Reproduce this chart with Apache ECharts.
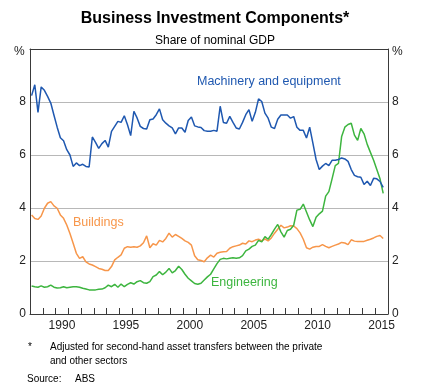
<!DOCTYPE html>
<html><head><meta charset="utf-8">
<script src="https://cdn.jsdelivr.net/npm/echarts@6/dist/echarts.min.js"></script>
<style>html,body{margin:0;padding:0;background:#fff}#c{width:430px;height:390px}</style>
</head><body><div id="c"></div>
<script>
// Quarterly observations, first one is 1988 Q1 (plotted at mid-quarter)
const firstYear = 1988;
const machinery = [
8.24,8.65,7.61,8.57,8.44,8.21,7.96,7.5,7.05,6.65,
6.54,6.2,6.0,5.57,5.7,5.6,5.65,5.57,5.55,6.68,
6.48,6.25,6.43,6.55,6.3,6.89,7.08,7.27,7.23,7.48,
7.14,6.73,7.65,7.4,7.08,7.0,6.98,7.33,7.36,7.52,
7.74,7.33,7.2,7.1,7.02,6.8,7.02,7.02,6.86,7.3,
7.43,7.1,7.06,7.04,6.92,6.9,6.9,6.93,6.9,7.84,
7.23,7.2,7.46,7.23,7.02,6.98,7.23,7.52,7.71,7.27,
7.61,8.12,8.02,7.58,7.39,7.05,7.0,7.35,7.51,7.51,
7.51,7.39,7.45,7.05,6.93,6.93,6.64,7.05,6.45,5.83,
5.45,5.58,5.68,5.6,5.8,5.8,5.83,5.89,5.85,5.76,
5.45,5.23,5.18,5.16,4.89,5.01,4.85,5.12,5.1,5.0,
4.78];
const buildings = [
3.74,3.6,3.57,3.7,3.99,4.18,4.24,4.08,3.99,3.74,
3.61,3.36,3.04,2.67,2.29,2.1,2.16,1.97,1.89,1.85,
1.79,1.72,1.69,1.64,1.64,1.79,2.04,2.14,2.23,2.48,
2.54,2.52,2.54,2.52,2.57,2.69,2.95,2.5,2.65,2.6,
2.78,2.72,2.85,3.05,2.9,3.0,2.93,2.85,2.76,2.7,
2.6,2.2,2.05,2.02,1.97,2.12,2.22,2.15,2.29,2.33,
2.35,2.36,2.48,2.54,2.57,2.6,2.67,2.64,2.76,2.73,
2.79,2.82,2.76,2.83,2.76,2.87,3.05,3.2,3.35,3.25,
3.28,3.33,3.32,3.22,3.06,2.82,2.5,2.45,2.52,2.55,
2.55,2.62,2.55,2.5,2.55,2.6,2.64,2.7,2.68,2.62,
2.8,2.75,2.74,2.74,2.74,2.78,2.82,2.87,2.93,2.96,
2.85];
const engineering = [
1.06,1.03,1.01,1.06,1.01,1.03,1.09,1.01,0.98,0.99,
1.03,0.99,1.01,1.03,1.03,1.01,0.97,0.94,0.91,0.91,
0.91,0.93,0.94,0.99,1.09,1.03,1.12,1.01,1.13,1.03,
1.12,1.18,1.13,1.22,1.26,1.18,1.16,1.22,1.41,1.47,
1.6,1.48,1.58,1.72,1.55,1.64,1.8,1.68,1.5,1.35,
1.25,1.15,1.12,1.16,1.28,1.4,1.5,1.7,1.9,2.06,
2.1,2.08,2.1,2.12,2.1,2.12,2.2,2.38,2.45,2.55,
2.6,2.78,2.72,2.92,2.82,3.0,3.2,3.38,3.1,2.9,
3.15,3.2,3.35,3.92,3.95,4.15,3.85,3.55,3.3,3.65,
3.78,3.88,4.45,4.62,5.1,5.6,5.68,6.7,7.05,7.15,
7.2,6.75,6.55,7.0,6.8,6.4,6.1,5.8,5.45,5.1,
4.55];
const xTickYears = [1988,1989,1990,1991,1992,1993,1994,1995,1996,1997,1998,1999,2000,2001,2002,2003,2004,2005,2006,2007,2008,2009,2010,2011,2012,2013,2014,2015,2016];
const xLabelYears = [1990,1995,2000,2005,2010,2015];
const yTickValues = [0,2,4,6,8,10];
const yUnit = '%';

function toPairs(vals){ return vals.map((v,i)=>[firstYear + 0.125 + 0.25*i, v]); }

const chart = echarts.init(document.getElementById('c'), null, {renderer:'canvas'});
const FONT = 'Liberation Sans, Arial, sans-serif';
const frame = '#3a3a3a';
const yAx = (pos) => ({
  type:'value', position:pos, min:yTickValues[0], max:yTickValues[yTickValues.length-1], interval:2,
  axisLine:{show:true, onZero:false, lineStyle:{color:frame, width:1}},
  axisTick:{show:false},
  axisLabel:{show:true, margin:4, fontSize:12, color:'#222', fontFamily:FONT,
    formatter:(v)=> v===10 ? '' : String(v)},
  splitLine:{show:pos==='left', lineStyle:{color:'#b8b8b8', width:1}}
});
chart.setOption({
  animation:false,
  backgroundColor:'#fff',
  grid:{left:30, right:42, top:49, bottom:76, containLabel:false},
  title:[
    {text:'Business Investment Components*', left:'center', top:6,
     textStyle:{fontSize:16, fontWeight:'bold', color:'#000', fontFamily:FONT}},
    {text:'Share of nominal GDP', left:'center', top:30,
     textStyle:{fontSize:12, fontWeight:'normal', color:'#000', fontFamily:FONT}}
  ],
  xAxis:[
    {type:'value', position:'bottom', min:1988, max:2016,
     axisLine:{show:true, onZero:false, lineStyle:{color:frame, width:1}},
     axisTick:{show:true, inside:true, length:6, customValues:xTickYears, lineStyle:{color:frame}},
     axisLabel:{show:true, customValues:xLabelYears.map(y=>y+0.5), formatter:(v)=>String(Math.floor(v)),
       fontSize:12, color:'#222', margin:6, fontFamily:FONT},
     splitLine:{show:false}},
    {type:'value', position:'top', min:1988, max:2016,
     axisLine:{show:true, onZero:false, lineStyle:{color:frame, width:1}},
     axisTick:{show:false}, axisLabel:{show:false}, splitLine:{show:false}}
  ],
  yAxis:[yAx('left'), yAx('right')],
  series:[
    {name:'Buildings', type:'line', data:toPairs(buildings), showSymbol:false,
     lineStyle:{color:'#f7964a', width:1.5}, itemStyle:{color:'#f7964a'}},
    {name:'Engineering', type:'line', data:toPairs(engineering), showSymbol:false,
     lineStyle:{color:'#3db53f', width:1.5}, itemStyle:{color:'#3db53f'}},
    {name:'Machinery and equipment', type:'line', data:toPairs(machinery), showSymbol:false,
     lineStyle:{color:'#1f58b0', width:1.5}, itemStyle:{color:'#1f58b0'}}
  ],
  graphic:[
    {type:'text', left:14, top:46, style:{text:yUnit, fontSize:12, fill:'#222', fontFamily:FONT}},
    {type:'text', left:392, top:46, style:{text:yUnit, fontSize:12, fill:'#222', fontFamily:FONT}},
    {type:'text', left:197, top:75, style:{text:'Machinery and equipment', fontSize:12.5, fill:'#1f58b0', fontFamily:FONT}},
    {type:'text', left:73, top:216, style:{text:'Buildings', fontSize:12.5, fill:'#f7964a', fontFamily:FONT}},
    {type:'text', left:211, top:276, style:{text:'Engineering', fontSize:12.5, fill:'#3db53f', fontFamily:FONT}},
    {type:'text', left:28, top:342, style:{text:'*', fontSize:10, fill:'#000', fontFamily:FONT}},
    {type:'text', left:50, top:342, style:{text:'Adjusted for second-hand asset transfers between the private', fontSize:10, fill:'#000', fontFamily:FONT}},
    {type:'text', left:50, top:356, style:{text:'and other sectors', fontSize:10, fill:'#000', fontFamily:FONT}},
    {type:'text', left:27, top:374, style:{text:'Source:', fontSize:10, fill:'#000', fontFamily:FONT}},
    {type:'text', left:75, top:374, style:{text:'ABS', fontSize:10, fill:'#000', fontFamily:FONT}}
  ]
});
</script></body></html>
